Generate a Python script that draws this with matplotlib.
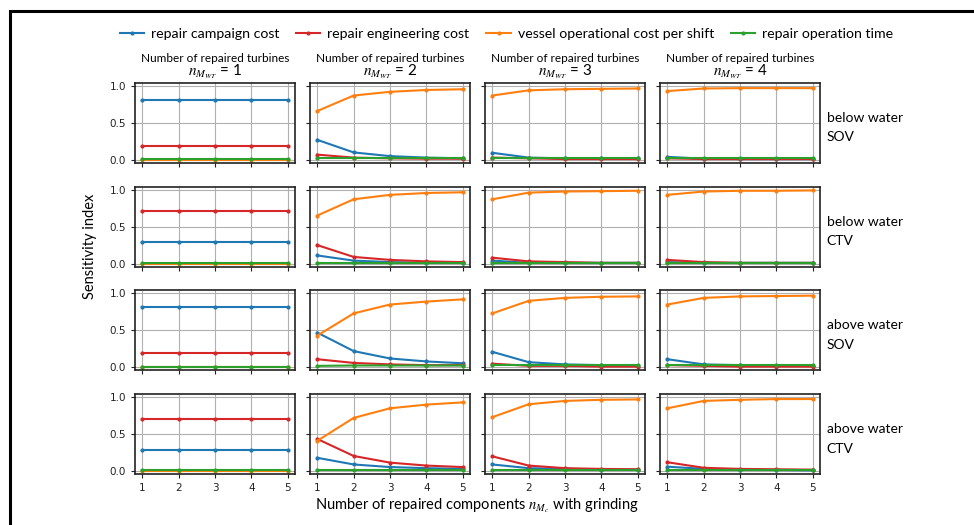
import matplotlib
matplotlib.use("Agg")
import matplotlib.pyplot as plt
from matplotlib.patches import Rectangle

plt.rcParams['mathtext.fontset'] = 'stix'

# number of repaired components (x axis)
n_components = [1, 2, 3, 4, 5]
# number of repaired turbines (columns)
n_turbines = [1, 2, 3, 4]
# scenarios (rows)
scenarios = ['below water\nSOV', 'below water\nCTV', 'above water\nSOV', 'above water\nCTV']

series_names = ['repair campaign cost', 'repair engineering cost',
                'vessel operational cost per shift', 'repair operation time']
series_colors = ['#1f77b4', '#d62728', '#ff7f0e', '#2ca02c']

# sensitivity indices, indexed [row][column][component]
campaign_cost = [
    [[0.81] * 5, [0.27, 0.10, 0.05, 0.03, 0.02], [0.095, 0.03, 0.02, 0.02, 0.02], [0.04, 0.015, 0.01, 0.01, 0.01]],
    [[0.29] * 5, [0.11, 0.04, 0.02, 0.01, 0.01], [0.04, 0.01, 0.01, 0.01, 0.01], [0.02, 0.01, 0.01, 0.01, 0.01]],
    [[0.81] * 5, [0.47, 0.22, 0.12, 0.08, 0.055], [0.21, 0.07, 0.04, 0.03, 0.02], [0.11, 0.04, 0.03, 0.02, 0.02]],
    [[0.29] * 5, [0.18, 0.09, 0.055, 0.04, 0.03], [0.09, 0.04, 0.03, 0.02, 0.02], [0.06, 0.03, 0.02, 0.015, 0.01]],
]
engineering_cost = [
    [[0.19] * 5, [0.07, 0.03, 0.02, 0.015, 0.015], [0.03, 0.02, 0.01, 0.01, 0.01], [0.02, 0.01, 0.01, 0.01, 0.01]],
    [[0.71] * 5, [0.25, 0.09, 0.05, 0.03, 0.02], [0.08, 0.03, 0.02, 0.01, 0.01], [0.05, 0.02, 0.01, 0.01, 0.01]],
    [[0.19] * 5, [0.11, 0.06, 0.04, 0.03, 0.03], [0.05, 0.02, 0.02, 0.01, 0.01], [0.03, 0.02, 0.01, 0.01, 0.01]],
    [[0.71] * 5, [0.435, 0.205, 0.115, 0.075, 0.055], [0.20, 0.075, 0.04, 0.03, 0.025], [0.12, 0.045, 0.03, 0.025, 0.02]],
]
vessel_cost = [
    [[0.0] * 5, [0.66, 0.87, 0.92, 0.945, 0.955], [0.87, 0.94, 0.955, 0.96, 0.965], [0.93, 0.965, 0.97, 0.97, 0.97]],
    [[0.0] * 5, [0.65, 0.87, 0.93, 0.955, 0.965], [0.87, 0.96, 0.975, 0.98, 0.985], [0.93, 0.975, 0.985, 0.985, 0.99]],
    [[0.0] * 5, [0.43, 0.73, 0.85, 0.89, 0.92], [0.73, 0.90, 0.94, 0.955, 0.96], [0.85, 0.94, 0.96, 0.965, 0.97]],
    [[0.0] * 5, [0.41, 0.72, 0.85, 0.90, 0.93], [0.73, 0.905, 0.95, 0.965, 0.97], [0.85, 0.95, 0.965, 0.975, 0.975]],
]
operation_time = [
    [[0.01] * 5, [0.02] * 5, [0.02] * 5, [0.02] * 5],
    [[0.01] * 5, [0.01] * 5, [0.01] * 5, [0.01] * 5],
    [[0.01] * 5, [0.02, 0.025, 0.025, 0.025, 0.025], [0.03] * 5, [0.035] * 5],
    [[0.01] * 5, [0.02] * 5, [0.02] * 5, [0.02] * 5],
]
all_series = [campaign_cost, engineering_cost, vessel_cost, operation_time]

text_font = ['Lato', 'DejaVu Sans']

fig, axes = plt.subplots(4, 4, figsize=(9.74, 5.25), dpi=100, sharex=True, sharey=True)
fig.subplots_adjust(left=0.1386, right=0.842, top=0.842, bottom=0.097, wspace=0.094, hspace=0.3)

for r in range(4):
    for c in range(4):
        ax = axes[r, c]
        for data, name, color in zip(all_series, series_names, series_colors):
            ax.plot(n_components, data[r][c], color=color, marker='.', markersize=4,
                    linewidth=1.5, label=name)
        ax.grid(True, color='#b0b0b0', linewidth=0.8)
        ax.set_ylim(-0.04, 1.04)
        ax.set_xlim(0.8, 5.2)
        ax.set_yticks([0.0, 0.5, 1.0])
        ax.set_xticks(n_components)
        ax.tick_params(labelsize=7.5, length=3, colors='#222222')
        for s in ax.spines.values():
            s.set_linewidth(1.2)
            s.set_color('#222222')
        if r == 0:
            # two-line column header: text line plus the turbine count
            ax.text(0.5, 1.31, 'Number of repaired turbines', transform=ax.transAxes,
                    ha='center', va='center', fontsize=8.5, family=text_font)
            ax.text(0.5, 1.03, '$n_{M_{WT}}$ = %d' % n_turbines[c], transform=ax.transAxes,
                    ha='center', va='bottom', fontsize=11, family=text_font)
    axes[r, 3].text(1.04, 0.44, scenarios[r], transform=axes[r, 3].transAxes,
                    ha='left', va='center', fontsize=10, family=text_font, linespacing=1.75)

fig.text(0.092, 0.53, 'Sensitivity index', rotation=90, ha='center', va='center',
         fontsize=10.5, family=text_font)
fig.text(0.49, 0.036, 'Number of repaired components $n_{M_c}$ with grinding',
         ha='center', va='center', fontsize=10.5, family=text_font)

handles, labels = axes[0, 0].get_legend_handles_labels()
fig.legend(handles, labels, loc='center', bbox_to_anchor=(0.52, 0.935), ncol=4,
           frameon=False, handlelength=1.7, columnspacing=1.2, handletextpad=0.5,
           prop={'family': text_font, 'size': 10.2})

# outer frame
fig.patches.append(Rectangle((9.5 / 974, -0.2), 1.2, 1.2 - 10.5 / 525,
                             transform=fig.transFigure, fill=False,
                             edgecolor='black', linewidth=2.2))

fig.savefig('out.png', dpi=100)
